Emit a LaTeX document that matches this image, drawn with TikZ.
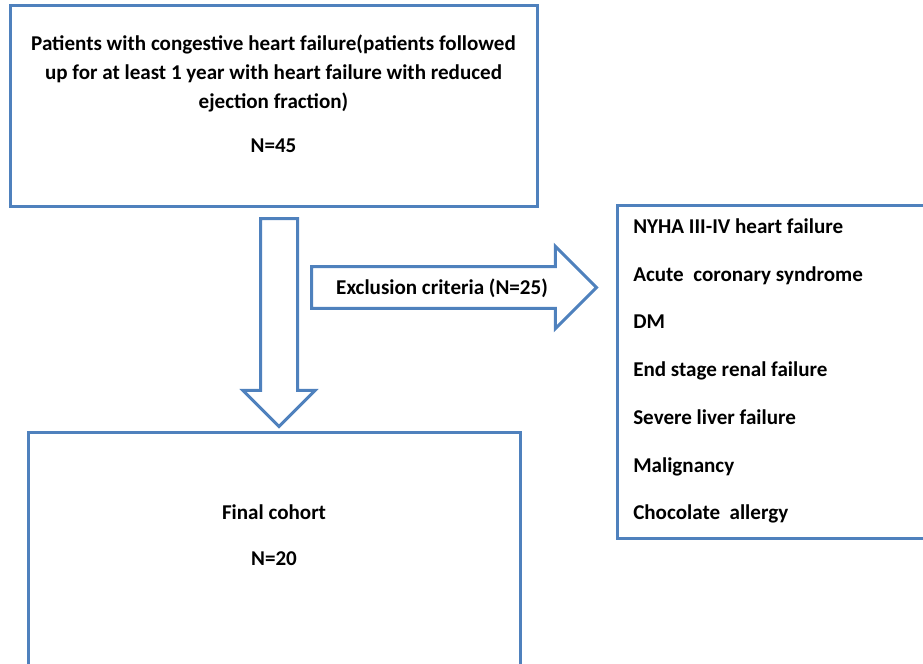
\documentclass[tikz,border=0pt]{standalone}
\usepackage{fontspec}
\setmainfont{Carlito}
\usepackage{tikz}
\usetikzlibrary{shapes.arrows}
\definecolor{boxblue}{HTML}{4F81BD}
\tikzstyle{box} = [draw=boxblue, line width=2.25pt, rectangle, inner sep=0pt]
\tikzstyle{txt} = [font=\fontsize{15.8}{21.75}\selectfont\bfseries, align=center, inner sep=0pt]
\tikzstyle{listtxt} = [font=\fontsize{15.8}{35.8}\selectfont\bfseries, align=left, inner sep=0pt, anchor=west]
\tikzstyle{bigarrow} = [draw=boxblue, line width=2.25pt, single arrow, single arrow head indent=0pt, inner xsep=0pt, anchor=tail]

\begin{document}
\begin{tikzpicture}[x=0.75pt, y=-0.75pt]
\useasboundingbox (0,0) rectangle (923,663);
\clip (0,0) rectangle (923,663);
% start box
\node[box, minimum width=395.25pt, minimum height=150pt] (patients) at (273.5,106) {};
\node[txt] (patientstext) at (273.5,93.5) {Patients with congestive heart failure(patients followed\\
    up for at least 1 year with heart failure with reduced\\
    ejection fraction)\\[11.25pt]
    N=45};
% exclusion list
\node[box, minimum width=242.25pt, minimum height=249.75pt] (criteria) at (778.5,371.5) {};
\node[listtxt] (criteriatext) at (633,371) {NYHA III-IV heart failure\\
    Acute\ \ coronary syndrome\\
    DM\\
    End stage renal failure\\
    Severe liver failure\\
    Malignancy\\
    Chocolate\ \ allergy};
% final box
\node[box, minimum width=369pt, minimum height=193.5pt] (cohort) at (274,561) {};
\node[txt] (cohorttext) at (274,535) {Final cohort\\[12.75pt] N=20};
% block arrows
\node[bigarrow, rotate=-90, minimum height=156pt, inner ysep=12.75pt,
    single arrow head extend=13.2pt] (down) at (279,217) {};
\node[bigarrow, minimum height=213.75pt, inner ysep=14.6pt,
    single arrow head extend=15.2pt] (exclusion) at (310,287.5) {};
\node[txt] (exclusiontext) at (442,288) {Exclusion criteria (N=25)};
\end{tikzpicture}
\end{document}
